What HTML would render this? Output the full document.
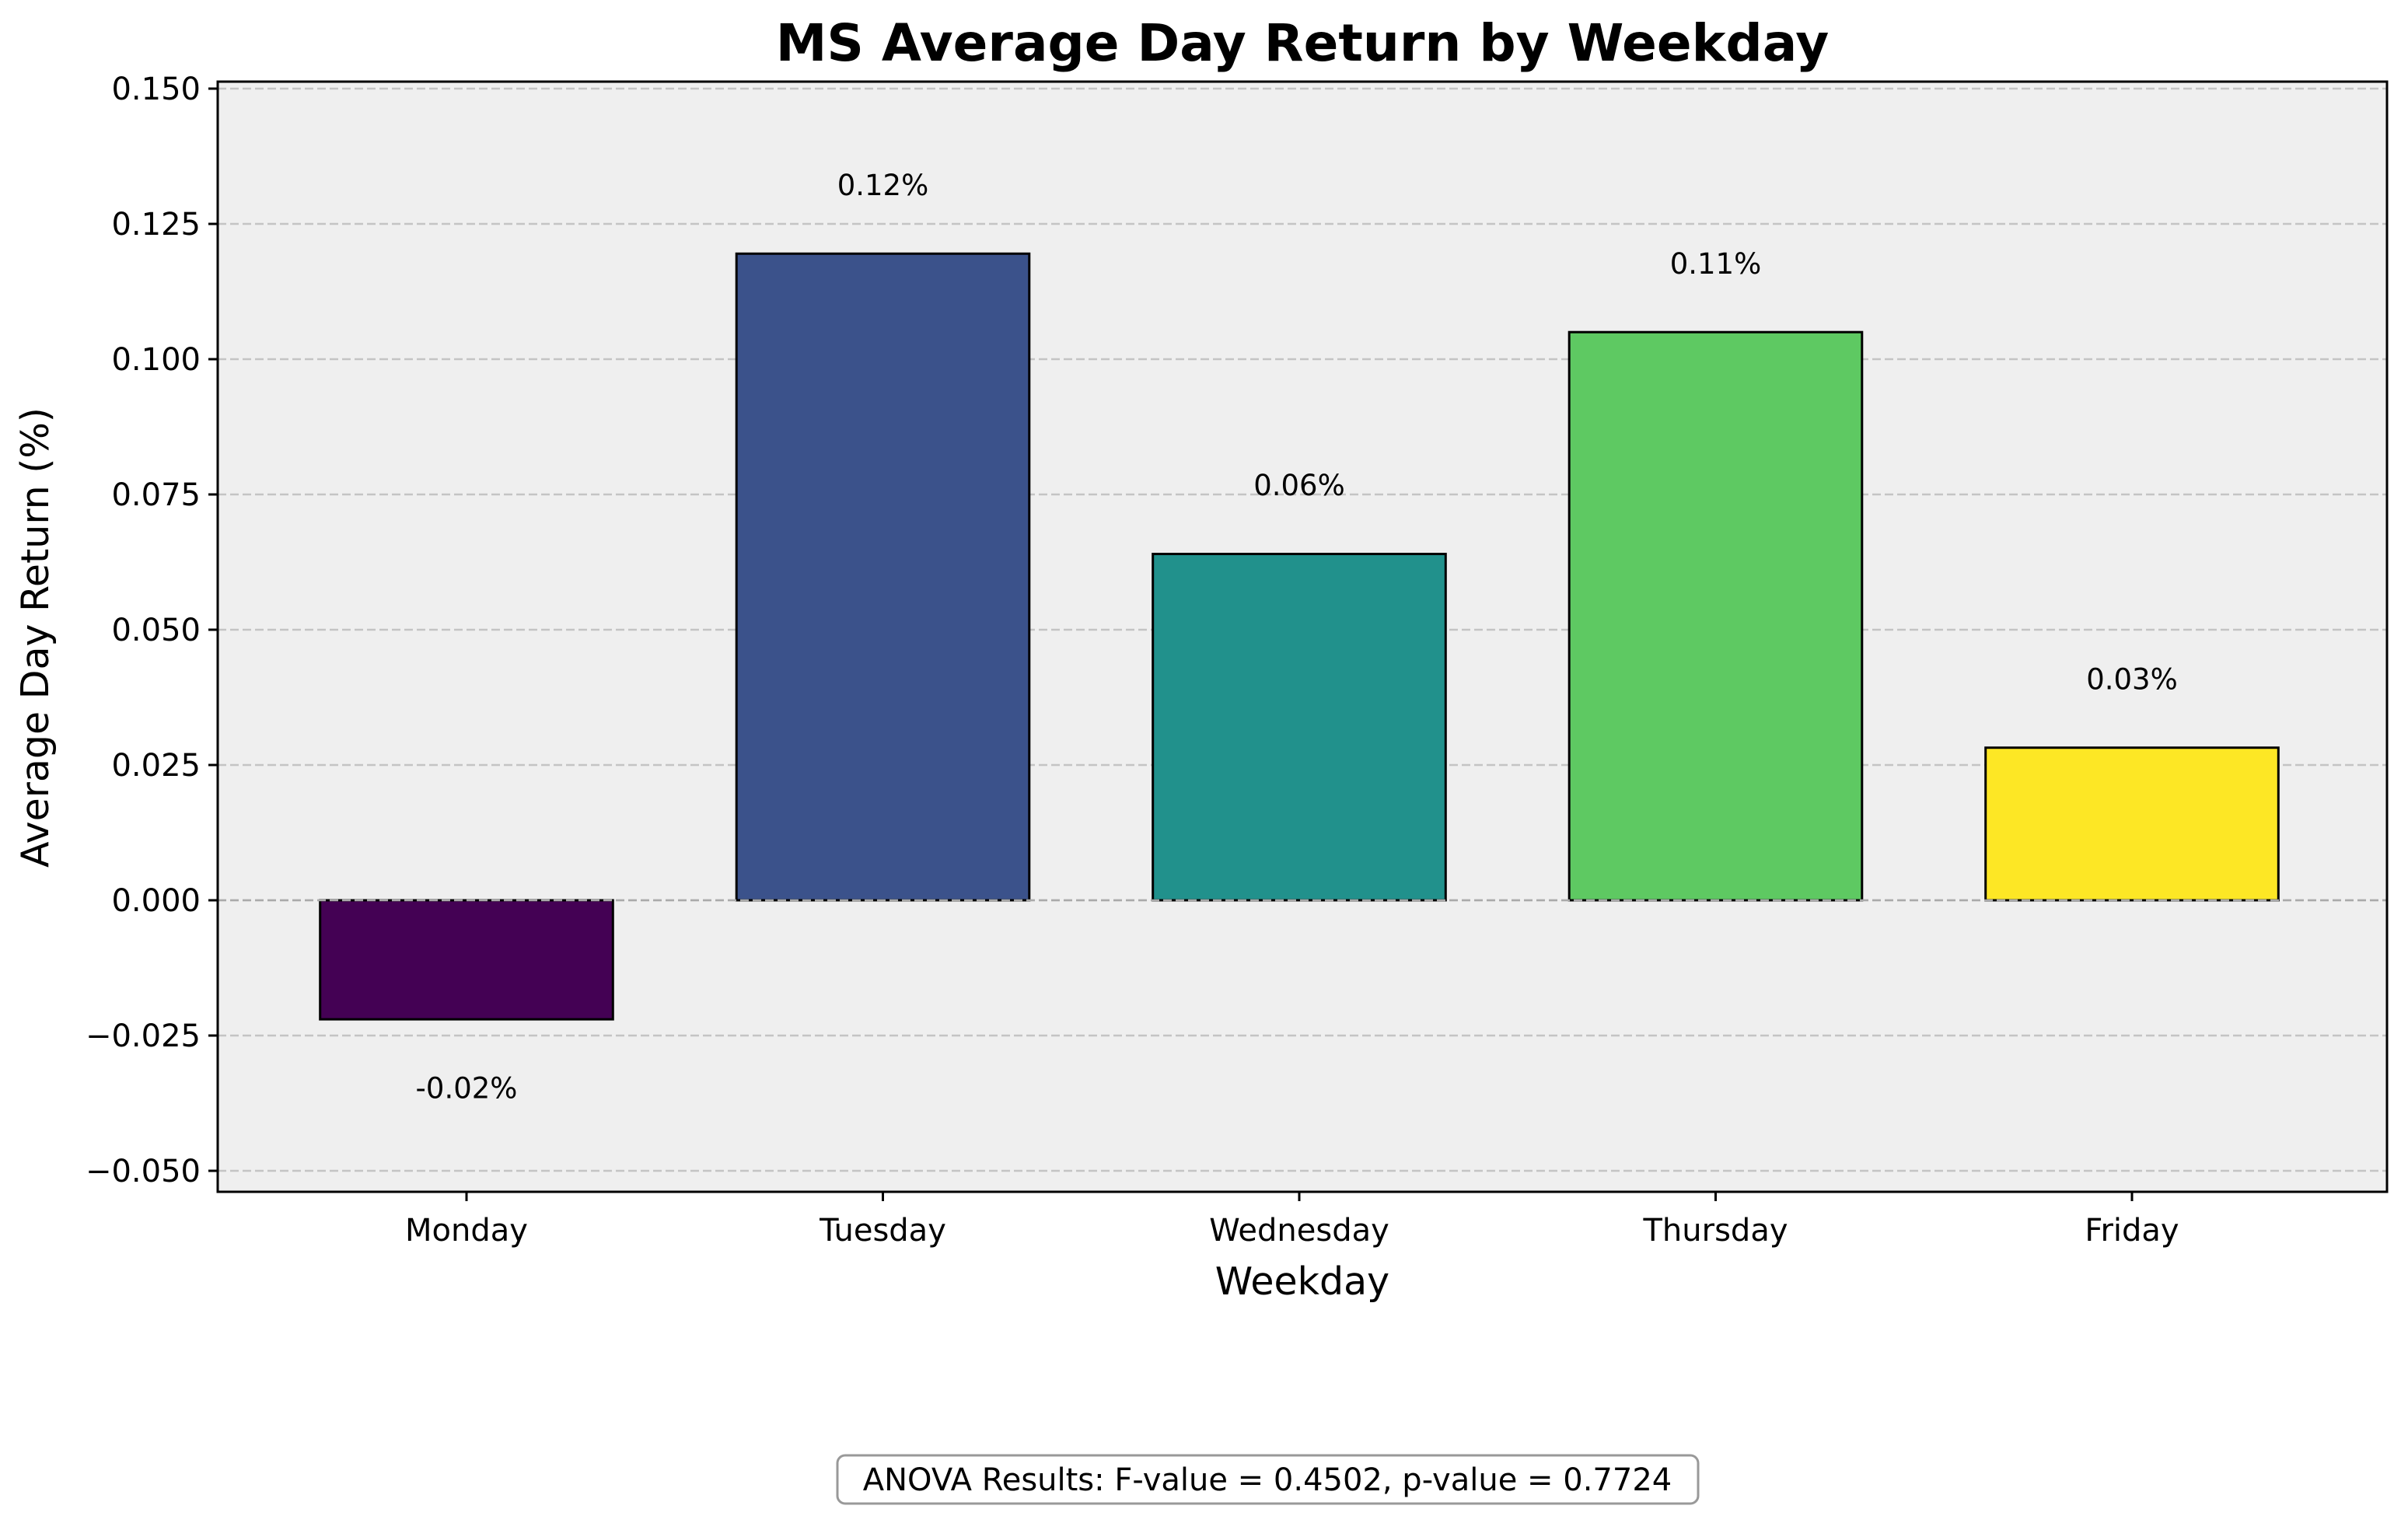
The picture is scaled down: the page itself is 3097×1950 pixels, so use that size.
<!DOCTYPE html>
<html><head><meta charset="utf-8"><style>
html,body{margin:0;padding:0;background:#fff;}
svg{display:block;font-family:"DejaVu Sans","Liberation Sans",sans-serif;}
</style></head><body>
<svg id="chart" width="3097" height="1950" viewBox="0 0 3097 1950" xmlns="http://www.w3.org/2000/svg">
<rect x="0" y="0" width="3097" height="1950" fill="#fff"/>
<text x="1675" y="78" font-size="66" font-weight="bold" text-anchor="middle">MS Average Day Return by Weekday</text>
<rect x="280" y="105" width="2790" height="1428" fill="#efefef"/>
<g id="grid"></g>
<g id="bars"></g>
<g id="zeroline"></g>
<rect x="280" y="105" width="2790" height="1428" fill="none" stroke="#000" stroke-width="3"/>
<g id="yticks"></g>
<g id="xticks"></g>
<g id="labels"></g>
<text transform="translate(62,820) rotate(-90)" font-size="49" text-anchor="middle">Average Day Return (%)</text>
<text x="1675" y="1665" font-size="49" text-anchor="middle">Weekday</text>
<rect x="1077" y="1872" width="1107" height="62" rx="10" fill="#fff" stroke="#999" stroke-width="3"/>
<text x="1630" y="1917" font-size="40" text-anchor="middle">ANOVA Results: F-value = 0.4502, p-value = 0.7724</text>
</svg>
<script>
const categories = ["Monday","Tuesday","Wednesday","Thursday","Friday"];
const values = [-0.022, 0.1195, 0.064, 0.105, 0.0282];
const valueLabels = ["-0.02%","0.12%","0.06%","0.11%","0.03%"];
const colors = ["#440154","#3b528b","#21918c","#5ec962","#fde725"];
const yTicks = [-0.050,-0.025,0.000,0.025,0.050,0.075,0.100,0.125,0.150];
const yTickLabels = ["\u22120.050","\u22120.025","0.000","0.025","0.050","0.075","0.100","0.125","0.150"];

const NS="http://www.w3.org/2000/svg";
const plotL=280, plotR=3070;
function y(v){ return 1158 - v*6960; }
function x(i){ return 600 + i*535.5; }
const barW = 0.7*538;
function mk(tag, attrs, parent){
  const e=document.createElementNS(NS,tag);
  for(const k in attrs) e.setAttribute(k, attrs[k]);
  document.getElementById(parent).appendChild(e);
  return e;
}
yTicks.forEach((t,i)=>{
  const g=mk('line',{x1:plotL,x2:plotR,y1:y(t),y2:y(t),stroke:'#c4c4c4','stroke-width':2.5,'stroke-dasharray':'11,5'},'grid');
  
  
  const tk=mk('line',{x1:plotL-12,x2:plotL,y1:y(t),y2:y(t),stroke:'#000','stroke-width':3},'yticks');
  
  
  const tl=mk('text',{x:plotL-22,y:y(t)+14,'font-size':40,'text-anchor':'end'},'yticks');
  tl.textContent=yTickLabels[i];
  
  
});
categories.forEach((c,i)=>{
  const v=values[i];
  const top=Math.min(y(v),y(0)), h=Math.abs(y(v)-y(0));
  const b=mk('rect',{x:x(i)-barW/2,y:top,width:barW,height:h,fill:colors[i],stroke:'#000','stroke-width':3},'bars');
  
  
  const tk=mk('line',{x1:x(i),x2:x(i),y1:1533,y2:1545,stroke:'#000','stroke-width':3},'xticks');
  
  
  const tl=mk('text',{x:x(i),y:1596,'font-size':40,'text-anchor':'middle'},'xticks');
  tl.textContent=c;
  
  
  const ly = v>=0 ? y(v+0.0127)+13 : y(v-0.0127)+13;
  const vl=mk('text',{x:x(i),y:ly,'font-size':37,'text-anchor':'middle'},'labels');
  vl.textContent=valueLabels[i];
  
  
});
const z=mk('line',{x1:plotL,x2:plotR,y1:y(0),y2:y(0),stroke:'#aaa','stroke-width':2.5,'stroke-dasharray':'11,5'},'zeroline');


</script>
</body></html>
